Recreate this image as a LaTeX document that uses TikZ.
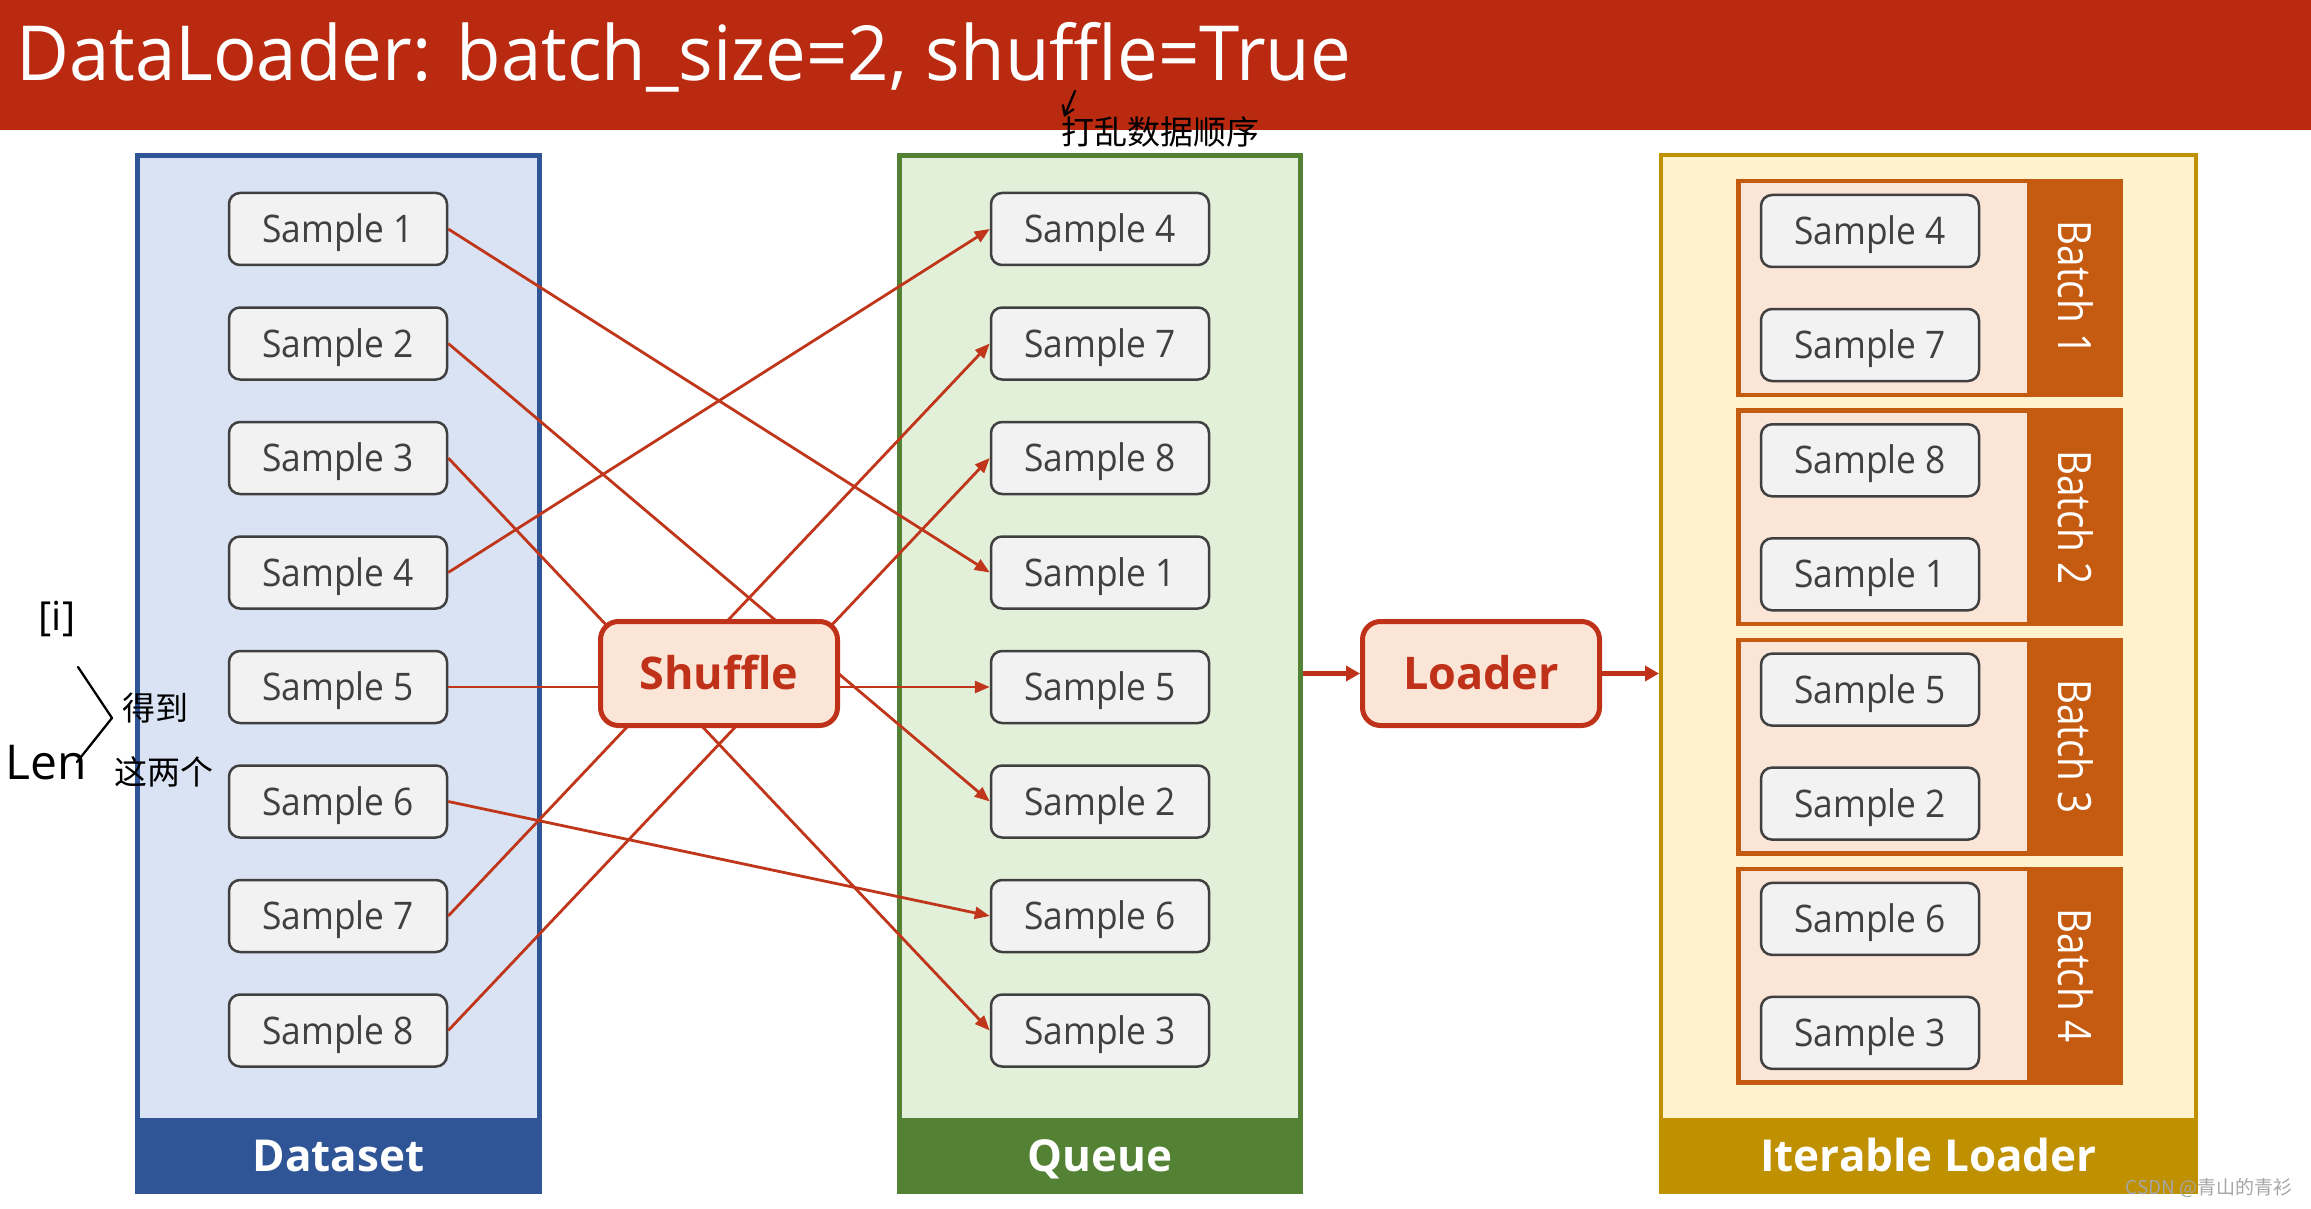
\documentclass[tikz,border=0pt]{standalone}
\usepackage{fontspec}
\usepackage{graphicx}
\setmainfont{Open Sans}
\newfontfamily\cjk{Noto Sans CJK SC}
\newfontfamily\titlefont[FakeStretch=0.955]{Open Sans}
\newfontfamily\smpfont[FakeStretch=0.93]{Open Sans}
\newfontfamily\batchfont[FakeStretch=0.84]{Open Sans}
\usetikzlibrary{arrows.meta}
\definecolor{titlered}{HTML}{B92A10}
\definecolor{connred}{HTML}{C0361A}
\definecolor{procred}{HTML}{C0311A}
\definecolor{procfill}{HTML}{FBE5D6}
\definecolor{dsblue}{HTML}{2F5597}
\definecolor{dsfill}{HTML}{DAE3F3}
\definecolor{qgreen}{HTML}{548235}
\definecolor{qfill}{HTML}{E2F0D9}
\definecolor{ilgold}{HTML}{BF9000}
\definecolor{ilfill}{HTML}{FFF2CC}
\definecolor{borange}{HTML}{C55A11}
\definecolor{smpfill}{HTML}{F2F2F2}
\definecolor{smpborder}{HTML}{404040}
\tikzset{
  smp/.style={draw=smpborder, line width=2.5pt, fill=smpfill, rounded corners=11pt,
    minimum width=218pt, minimum height=72pt, inner sep=0pt, text=smpborder,
    text height=27pt, text depth=0pt,
    font={\smpfont\fontsize{38pt}{40pt}\selectfont}},
  proc/.style={draw=procred, line width=5pt, fill=procfill, rounded corners=18pt,
    minimum width=237pt, minimum height=104pt, inner sep=0pt, text=procred,
    text height=32pt, text depth=0pt,
    font={\bfseries\fontsize{45pt}{48pt}\selectfont}},
  panel/.style={inner sep=0pt, minimum height=1036pt},
  bar/.style={inner sep=0pt, minimum height=76pt, anchor=south, text=white,
    text height=31.5pt, text depth=0pt,
    font={\bfseries\fontsize{44pt}{48pt}\selectfont}},
  batchbox/.style={draw=borange, line width=4.5pt, fill=procfill, inner sep=0pt,
    minimum width=382.5pt, minimum height=213.5pt},
  batchbar/.style={fill=borange, inner sep=0pt, minimum width=96pt, minimum height=218pt, anchor=east},
  batchtxt/.style={text=white, rotate=-90, text height=33pt, text depth=0pt,
    font={\batchfont\fontsize{46pt}{48pt}\selectfont}},
  conn/.style={draw=connred, line width=2.8pt, -{Triangle[length=15pt,width=12pt]}},
  bigarrow/.style={draw=procred, line width=4.5pt, -{Triangle[length=14pt,width=15pt]}},
  hand/.style={text=black, font={\cjk\fontsize{33pt}{36pt}\selectfont}},
  handline/.style={draw=black, line width=2.3pt, line cap=round, line join=round},
}
\begin{document}
\begin{tikzpicture}[x=1pt,y=-1pt]
\useasboundingbox (0,0) rectangle (2311,1209);
% title bar
\fill[titlered] (0,0) rectangle (2311,130);
\node[anchor=base west, inner sep=0pt, text=white, font={\titlefont\fontsize{76pt}{80pt}\selectfont}] (title) at (16,81) {DataLoader: batch\_size=2, shuffle=True};

% panels
\node[panel, draw=dsblue, fill=dsfill, line width=5pt, minimum width=402pt] (dataset) at (338.5,673.5) {};
\node[bar, fill=dsblue, minimum width=407pt] (dsbar) at (dataset.south) {Dataset};
\node[panel, draw=qgreen, fill=qfill, line width=5pt, minimum width=401pt] (queue) at (1100,673.5) {};
\node[bar, fill=qgreen, minimum width=406pt] (qbar) at (queue.south) {Queue};
\node[panel, draw=ilgold, fill=ilfill, line width=4pt, minimum width=535pt, minimum height=1037pt] (iter) at (1928.5,673.5) {};
\node[bar, fill=ilgold, minimum width=539pt] (ilbar) at (iter.south) {Iterable Loader};

% batches
\foreach \k/\a/\b in {1/4/7, 2/8/1, 3/5/2, 4/6/3} {
  \pgfmathsetmacro{\top}{179+229.3*(\k-1)}
  \node[batchbox] (batch\k) at (1929.5,\top+109) {};
  \node[batchbar] (bbar\k) at (batch\k.east) {};
  \node[batchtxt] (btxt\k) at (bbar\k.center) {Batch \k};
  \node[smp] (bs\k a) at (1870,\top+52) {Sample \a};
  \node[smp] (bs\k b) at (1870,\top+166) {Sample \b};
}

% dataset samples
\foreach \i in {1,...,8} {
  \node[smp] (d\i) at (338,229+114.5*\i-114.5) {Sample \i};
}
% queue samples (row / sample)
\foreach \r/\s in {1/4, 2/7, 3/8, 4/1, 5/5, 6/2, 7/6, 8/3} {
  \node[smp] (q\s) at (1100,229+114.5*\r-114.5) {Sample \s};
}

% shuffle connectors
\foreach \i in {1,...,8} {
  \draw[conn] (d\i.east) -- (q\i.west);
}

% process nodes
\node[proc] (shuffle) at (719,673.5) {Shuffle};
\node[proc] (loader) at (1481,673.5) {Loader};
\draw[bigarrow] (queue.east |- loader.west) -- (loader.west);
\draw[bigarrow] (loader.east) -- (iter.west |- loader.east);

% handwritten annotations
\coordinate (ha1) at (1075,91);
\coordinate (ha2) at (1064,117);
\draw[handline, -{Straight Barb[length=9pt,width=12pt]}] (ha1) -- (ha2);
\node[hand] (note1) at (1160,132) {打乱数据顺序};
\node[hand, font={\fontsize{40pt}{42pt}\selectfont}] (idx) at (57,619) {[i]};
\node[hand, font={\fontsize{48pt}{50pt}\selectfont}] (len) at (46,763) {Len};
\coordinate (br1) at (78,667);
\coordinate (br2) at (112,718);
\coordinate (br3) at (77,762);
\draw[handline] (br1) -- (br2) -- (br3);
\node[hand] (note2) at (155,708) {得到};
\node[hand] (note3) at (164,772) {这两个};

% watermark
\node[text=gray!70, font={\cjk\fontsize{19pt}{21pt}\selectfont}, inner sep=0pt] (wm) at (2209,1188) {CSDN @青山的青衫};
\end{tikzpicture}
\end{document}
